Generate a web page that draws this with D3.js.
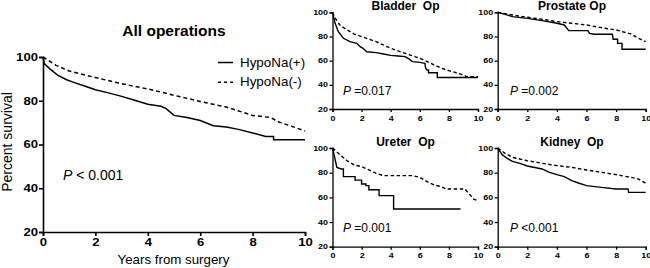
<!DOCTYPE html>
<html><head><meta charset="utf-8">
<script src="https://cdn.jsdelivr.net/npm/d3@7"></script>
<style>body{margin:0;background:#fff}svg{display:block}text{font-family:"Liberation Sans",Arial,sans-serif;white-space:pre}</style>
</head><body><svg id="c" width="650" height="268"></svg>
<script>
const yTicks=[20,40,60,80,100];
const xTicks=[0,2,4,6,8,10];
const seriesNames=["HypoNa(+)","HypoNa(-)"];
// [year, percent]
const allPos=[[0,100],[0.05,97],[0.25,94.7],[0.57,91.6],[0.9,89.6],[1.2,88.3],[1.53,87],[2,85],[2.5,83.6],[3,82],[3.5,80.2],[4,78.4],[4.5,77.5],[4.7,76.4],[5,73.3],[5.5,72.3],[6,71],[6.5,68.6],[7,68],[7.5,66.8],[8,65.3],[8.5,63.7],[8.8,63.7],[8.8,62.2],[10,62.2]];
const allNeg=[[0,100],[0.5,96.2],[1,93.6],[2,90.6],[3,87.8],[4,85.4],[5,82.5],[6,79.7],[7,77.1],[8,73.3],[8.7,72.3],[9,70.3],[9.5,68.3],[10,66.2]];
const bladderPos=[[0,100],[0.18,90.9],[0.4,84],[0.75,78.5],[1.2,75.7],[1.67,74.3],[1.9,71.6],[2.1,70.2],[2.35,67.4],[3,66.6],[3.5,65.5],[4,64.4],[4.5,63.9],[5,63.3],[5.3,61],[5.5,59.2],[6,58.6],[6.35,57.8],[6.4,53.7],[6.5,52.3],[6.6,52.3],[6.6,50],[7.2,50],[7.2,46],[10,46]];
const bladderNeg=[[0,100],[0.2,95],[0.5,89.5],[1,85.4],[1.5,82],[2,79.9],[3,75.7],[4,70.2],[5,66],[6,62],[7,56.4],[7.5,53.7],[8,51.7],[8.5,50],[9,48.1],[9.2,46.8],[10,46.8]];
const prostatePos=[[0,100],[0.5,98.3],[1,96.4],[2,95],[3,93.1],[4,90.9],[4.5,89.5],[4.8,84.8],[6.1,84.8],[6.2,82.6],[6.5,81.8],[7.75,81.8],[7.8,77.7],[8.1,77.7],[8.1,74.3],[8.4,74.3],[8.4,69.4],[10,69.4]];
const prostateNeg=[[0,100],[1,97.8],[2,95.9],[3,94.2],[4,92.3],[5,90.9],[6,89.5],[7,87.3],[8,85.4],[9,82.1],[9.5,78.5],[10,75.7]];
const ureterPos=[[0,100],[0.1,95.1],[0.3,84.3],[0.6,83],[0.75,83],[0.75,76.8],[1.55,76.8],[1.55,74],[2,74],[2,70.8],[2.3,70.8],[2.3,69.5],[2.5,69.5],[2.5,66.2],[3.2,66.2],[3.2,61.4],[4.2,61.4],[4.2,50.5],[8.8,50.5]];
const ureterNeg=[[0,100],[0.5,94.6],[1,89.7],[1.5,86.2],[2,84.9],[2.5,82.2],[3,79.5],[3.5,77.6],[5.5,77.6],[6,76.2],[6.5,72.7],[7,70],[7.5,68.6],[7.8,66.8],[9.1,66.8],[9.3,64],[9.5,61.4],[9.7,58.6],[10,57.3]];
const kidneyPos=[[0,100],[0.3,94.6],[0.7,91.1],[1,89.2],[1.5,87.6],[2,85.4],[3,83],[3.5,80.3],[4,78.4],[4.5,76.8],[5,73.5],[5.5,71.4],[6,69.5],[7,68.1],[8,66.8],[8.8,66.8],[8.85,64],[10,64]];
const kidneyNeg=[[0,100],[0.5,95.7],[1,92.4],[2,89.7],[3,87.6],[4,85.7],[5,84.3],[6,82.2],[7,80.3],[8,78.4],[9,76.2],[9.5,74.9],[10,71.4]];
const pValues=["< 0.001","=0.017","=0.002","=0.001","<0.001"];
const titles=["All operations","Bladder  Op","Prostate Op","Ureter  Op","Kidney  Op"];

const svg=d3.select("#c");
function styleTicks(a,o,isLeft){
  a.select(".domain").attr("stroke","#000").attr("stroke-width",o.aw);
  a.selectAll(".tick line").attr("stroke","#000").attr("stroke-width",o.aw);
  a.selectAll("text").attr("font-size",o.fs).attr("font-weight","bold").attr("fill","#000")
    .style("font-family","'Liberation Sans',Arial,sans-serif")
    .attr("transform",`scale(${o.sx},1)`)
    .attr("x",function(){return (+d3.select(this).attr("x")||0)/o.sx;});
}
function panel(o){
  const g=svg.append("g");
  const x=d3.scaleLinear().domain([0,10]).range([o.x0,o.x1]);
  const y=d3.scaleLinear().domain([20,100]).range([o.y20,o.y100]);
  const ya=g.append("g").attr("transform",`translate(${o.x0},0)`)
    .call(d3.axisLeft(y).tickValues(yTicks).tickSize(o.tick).tickPadding(o.ypad));
  const xa=g.append("g").attr("transform",`translate(0,${o.y20})`)
    .call(d3.axisBottom(x).tickValues(xTicks).tickSize(o.tick).tickPadding(o.xpad));
  styleTicks(ya,o,true);styleTicks(xa,o,false);
  const line=d3.line().x(d=>x(d[0])).y(d=>y(d[1]));
  g.append("path").attr("d",line(o.neg)).attr("fill","none").attr("stroke","#000")
    .attr("stroke-width",o.lw).attr("stroke-dasharray",o.dash);
  g.append("path").attr("d",line(o.pos)).attr("fill","none").attr("stroke","#000")
    .attr("stroke-width",o.lw);
  g.append("text").attr("x",o.tx).attr("y",o.ty).attr("text-anchor","middle")
    .attr("font-weight","bold").attr("font-size",o.tfs).text(o.title);
  const p=g.append("text").attr("x",o.px).attr("y",o.py).attr("font-size",o.pfs);
  p.append("tspan").attr("font-style","italic").text("P");
  p.append("tspan").text(" "+o.p);
  return {x,y};
}
panel({x0:43,x1:305,y20:232,y100:57,tick:4,ypad:1,xpad:3,aw:1.6,fs:10.5,sx:1.25,lw:1.5,dash:"4,3",
  pos:allPos,neg:allNeg,title:titles[0],tx:174,ty:36,tfs:15.5,px:63,py:180,pfs:14,p:pValues[0]});
const small={tick:3,ypad:1.5,xpad:4,aw:1.3,fs:6.6,sx:1.35,lw:1.4,dash:"3.5,2.5",tfs:12,pfs:12};
panel(Object.assign({},small,{x0:332.5,x1:478,y20:109,y100:12.3,pos:bladderPos,neg:bladderNeg,title:titles[1],tx:405.5,ty:10,px:343,py:94.5,p:pValues[1]}));
panel(Object.assign({},small,{x0:497.7,x1:645.7,y20:109,y100:12.3,pos:prostatePos,neg:prostateNeg,title:titles[2],tx:572,ty:10,px:510,py:94.5,p:pValues[2]}));
panel(Object.assign({},small,{x0:332.5,x1:478,y20:246.7,y100:148,pos:ureterPos,neg:ureterNeg,title:titles[3],tx:405.5,ty:146,px:343,py:231.5,p:pValues[3]}));
panel(Object.assign({},small,{x0:497.7,x1:645.7,y20:246.7,y100:148,pos:kidneyPos,neg:kidneyNeg,title:titles[4],tx:572,ty:146,px:510,py:231.5,p:pValues[4]}));

// axis titles
svg.append("text").attr("transform","translate(12,142) rotate(-90)").attr("text-anchor","middle")
  .attr("font-size",14).text("Percent survival");
svg.append("text").attr("x",173.5).attr("y",264).attr("text-anchor","middle")
  .attr("font-size",13.3).text("Years from surgery");
// legend
const leg=svg.append("g");
seriesNames.forEach((n,i)=>{
  const yy=62.5+i*19.7;
  leg.append("line").attr("x1",218).attr("x2",233).attr("y1",yy).attr("y2",yy)
    .attr("stroke","#000").attr("stroke-width",1.5).attr("stroke-dasharray",i?"3,3":null);
  leg.append("text").attr("x",240).attr("y",yy+4).attr("font-size",13.4).text(n);
});
</script></body></html>
